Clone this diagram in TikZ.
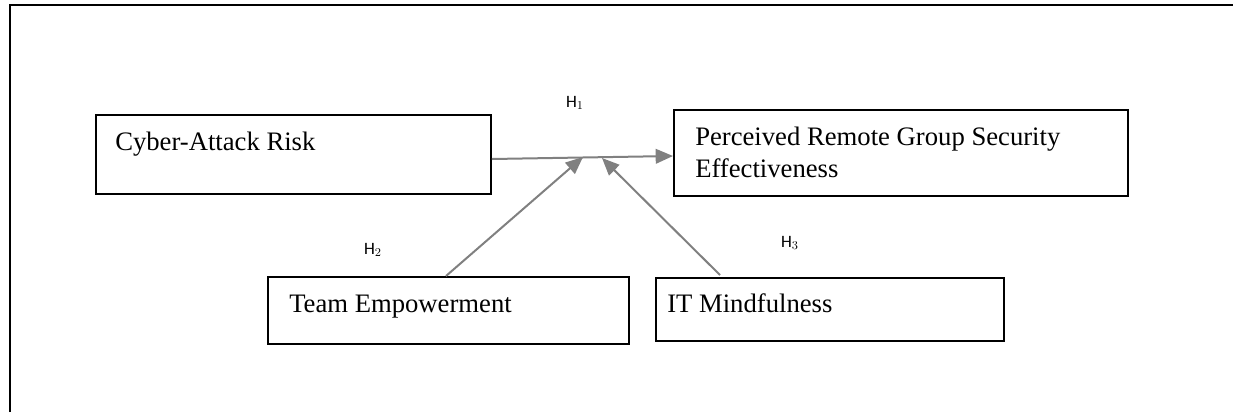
\documentclass[tikz,border=0pt]{standalone}
\usepackage{fontspec}
\setmainfont{Liberation Serif}
\newfontfamily\hfont{Carlito}
\usepackage{tikz}
\usetikzlibrary{arrows.meta}

\tikzset{
    box/.style={draw, line width=1.4pt, inner sep=0pt, anchor=north west},
    boxtext/.style={inner sep=0pt, align=left, font=\fontsize{20}{24}\selectfont},
    hyp/.style={inner sep=0pt, font=\hfont\fontsize{13}{15}\selectfont},
    link/.style={draw=gray, line width=1.5pt, -{Triangle[length=13pt,width=11pt]}}
}

\begin{document}
\begin{tikzpicture}[x=0.75pt,y=-0.75pt]
    \useasboundingbox (0,0) rectangle (1233,412);

    % FRAME
    \draw[line width=2.2pt] (10,412) -- (10,5) -- (1233,5);

    % BOXES
    \node[box, minimum width=395*0.75pt, minimum height=79*0.75pt] (risk) at (95,114) {};
    \node[box, minimum width=454*0.75pt, minimum height=86*0.75pt] (eff) at (673,109) {};
    \node[box, minimum width=361*0.75pt, minimum height=67*0.75pt] (team) at (267,276) {};
    \node[box, minimum width=348*0.75pt, minimum height=63*0.75pt] (mind) at (655,277) {};

    \node[boxtext, anchor=base west] (risktxt) at (115,150) {Cyber-Attack Risk};
    \node[boxtext, anchor=base west] (efftxt) at (695,177) {Perceived Remote Group Security\\Effectiveness};
    \node[boxtext, anchor=base west] (teamtxt) at (289,312) {Team Empowerment};
    \node[boxtext, anchor=base west] (mindtxt) at (667,312) {IT Mindfulness};

    % HYPOTHESES
    \node[hyp] (h1) at (575,103) {H$_1$};
    \node[hyp] (h2) at (373,250) {H$_2$};
    \node[hyp] (h3) at (790,243) {H$_3$};

    % ARROWS
    \coordinate (teamstart) at (446,276);
    \coordinate (mindstart) at (720,275);
    \coordinate (teamend) at (583,157);
    \coordinate (mindend) at (602,158);
    \draw[link] (risk.east |- 0,159) -- (eff.west |- 0,156);
    \draw[link] (teamstart) -- (teamend);
    \draw[link] (mindstart) -- (mindend);
\end{tikzpicture}
\end{document}
